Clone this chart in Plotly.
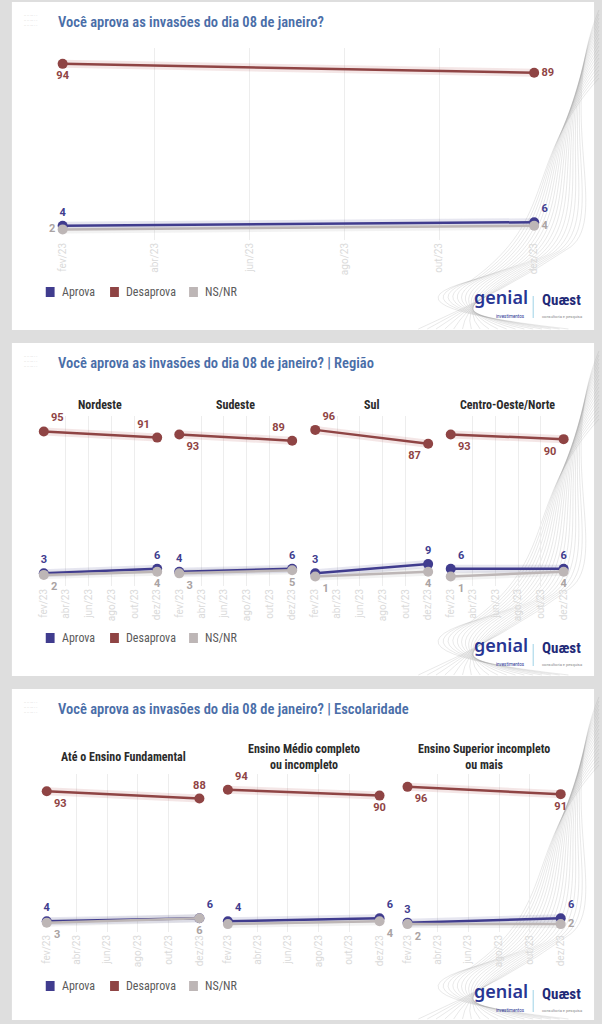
import plotly.graph_objects as go

W, H = 602, 1024

# ---- data ----
surveys = ["2023-02-01", "2023-12-01"]
tick_dates = ["2023-02-01", "2023-04-01", "2023-06-01", "2023-08-01", "2023-10-01", "2023-12-01"]
tick_labels = ["fev/23", "abr/23", "jun/23", "ago/23", "out/23", "dez/23"]
series_names = ["Aprova", "Desaprova", "NS/NR"]

total_aprova = [4, 6]
total_desaprova = [94, 89]
total_nsnr = [2, 4]

regioes = ["Nordeste", "Sudeste", "Sul", "Centro-Oeste/Norte"]
regiao_aprova = [[3, 6], [4, 6], [3, 9], [6, 6]]
regiao_desaprova = [[95, 91], [93, 89], [96, 87], [93, 90]]
regiao_nsnr = [[2, 4], [3, 5], [1, 4], [1, 4]]

escolaridade = ["Até o Ensino Fundamental", "Ensino Médio completo<br>ou incompleto",
                "Ensino Superior incompleto<br>ou mais"]
escol_aprova = [[4, 6], [4, 6], [3, 6]]
escol_desaprova = [[93, 88], [94, 90], [96, 91]]
escol_nsnr = [[3, 6], [2, 4], [2, 2]]

# ---- style ----
colors = {"Aprova": "#403c8e", "Desaprova": "#8f4444", "NS/NR": "#bdb6b6"}
bands = {"Aprova": "rgba(64,60,142,0.13)", "Desaprova": "rgba(180,90,90,0.15)",
         "NS/NR": "rgba(170,165,165,0.15)"}
title_color = "#4a6ea8"
cond = "Roboto Condensed, DejaVu Sans Condensed, Liberation Sans Narrow, Roboto"


def px(x):
    return x / W


def py(y):
    return 1 - y / H


fig = go.Figure()
layout_axes = {}
annotations = []
shapes = []
n_axes = [0]


def add_panel(xdom, ydom, yrange, values, positions, hidden=()):
    n_axes[0] += 1
    i = n_axes[0]
    sfx = "" if i == 1 else str(i)
    layout_axes["xaxis" + sfx] = dict(
        domain=[px(xdom[0]), px(xdom[1])], anchor="y" + sfx, type="date",
        range=[surveys[0], surveys[1]], tickvals=tick_dates, ticktext=tick_labels,
        tickangle=-90, tickfont=dict(size=10, color="#dadada"), showgrid=True,
        gridcolor="#ededed", gridwidth=1, zeroline=False, showline=False, ticks="")
    layout_axes["yaxis" + sfx] = dict(
        domain=[py(ydom[1]), py(ydom[0])], anchor="x" + sfx, range=yrange,
        showgrid=False, zeroline=False, showticklabels=False, showline=False)
    for name in ["Desaprova", "Aprova", "NS/NR"]:
        fig.add_trace(go.Scatter(
            x=surveys, y=values[name], xaxis="x" + sfx, yaxis="y" + sfx,
            mode="lines", line=dict(color=bands[name], width=8),
            hoverinfo="skip", showlegend=False, cliponaxis=False))
    for name in ["Desaprova", "Aprova", "NS/NR"]:
        texts = [("" if (name, k) in hidden else str(v)) for k, v in enumerate(values[name])]
        tcol = "#aaa3a3" if name == "NS/NR" else colors[name]
        fig.add_trace(go.Scatter(
            x=surveys, y=values[name], xaxis="x" + sfx, yaxis="y" + sfx, name=name,
            mode="lines+markers+text", text=texts, textposition=positions[name],
            textfont=dict(size=11, color=tcol, family="Roboto", weight="bold"),
            line=dict(color=colors[name], width=2.5), marker=dict(size=10, color=colors[name]),
            showlegend=False, cliponaxis=False))


def add_waves(top, bottom):
    # faint decorative curves in the right-hand corner of each card
    for k in range(18):
        x0, y0 = 604, top + 8 + k * 4
        c1 = (560 - k * 2, top + 110 + k * 3)
        c2 = (615 - k * 3, top + 215)
        x1, y1 = 575 - k * 6, top + 245 + k * 2
        c3 = (510 - k * 8, bottom - 40 + k)
        x2, y2 = 420 + k * 9, bottom - 1
        path = "M {},{} C {},{} {},{} {},{} Q {},{} {},{}".format(
            px(x0), py(y0), px(c1[0]), py(c1[1]), px(c2[0]), py(c2[1]),
            px(x1), py(y1), px(c3[0]), py(c3[1]), px(x2), py(y2))
        shapes.append(dict(type="path", xref="paper", yref="paper", path=path,
                           line=dict(color="rgba(150,150,150,0.35)", width=0.6),
                           layer="below"))


def add_card(top, bottom, title, legend_y, logo_y):
    shapes.append(dict(type="rect", xref="paper", yref="paper", x0=px(6), x1=px(599),
                       y0=py(bottom), y1=py(top), fillcolor="white", line=dict(width=0),
                       layer="below"))
    add_waves(top, bottom)
    annotations.append(dict(x=px(51), y=py(top + 20), xref="paper", yref="paper",
                            text=title, showarrow=False, xanchor="left", yanchor="middle",
                            font=dict(size=14.5, color=title_color, family=cond, weight=600)))
    annotations.append(dict(x=px(16), y=py(top + 18), xref="paper", yref="paper",
                            text="·· ·· ··· · ·<br>·· ·· ··· · ·<br>·· ·· ··· · ·",
                            showarrow=False, xanchor="left", yanchor="middle",
                            font=dict(size=4, color="#b5b5b5")))
    for sx, tx, name in [(45, 55, "Aprova"), (110.5, 120, "Desaprova"), (191, 201, "NS/NR")]:
        shapes.append(dict(type="rect", xref="paper", yref="paper", x0=px(sx - 4.5),
                           x1=px(sx + 4.5), y0=py(legend_y + 5), y1=py(legend_y - 5),
                           fillcolor=colors[name], line=dict(width=0)))
        annotations.append(dict(x=px(tx), y=py(legend_y), xref="paper", yref="paper", text=name,
                                showarrow=False, xanchor="left", yanchor="middle",
                                font=dict(size=12, color="#5a5a5a", family=cond)))
    annotations.append(dict(x=px(504), y=py(logo_y + 6), xref="paper", yref="paper",
                            text="genial", showarrow=False, xanchor="center", yanchor="bottom",
                            font=dict(size=18, color="#283593", family="Noto Sans", weight=600)))
    annotations.append(dict(x=px(514), y=py(logo_y + 7), xref="paper", yref="paper",
                            text="investimentos", showarrow=False, xanchor="center",
                            yanchor="top", font=dict(size=4.5, color="#283593")))
    shapes.append(dict(type="line", xref="paper", yref="paper", x0=px(537), x1=px(537),
                       y0=py(logo_y - 9), y1=py(logo_y + 13),
                       line=dict(color="#9fd3e6", width=1)))
    annotations.append(dict(x=px(566), y=py(logo_y + 6), xref="paper", yref="paper",
                            text="<b>Quæst</b>", showarrow=False, xanchor="center",
                            yanchor="bottom",
                            font=dict(size=15, color="#1f2a78", family=cond)))
    annotations.append(dict(x=px(566), y=py(logo_y + 7), xref="paper", yref="paper",
                            text="consultoria e pesquisa", showarrow=False, xanchor="center",
                            yanchor="top", font=dict(size=4, color="#8a8a8a")))


# card 1: total
add_card(2, 330, "Você aprova as invasões do dia 08 de janeiro?", 292, 305)
add_panel((57.7, 538), (48, 240), [-3.9, 102.8],
          {"Aprova": total_aprova, "Desaprova": total_desaprova, "NS/NR": total_nsnr},
          {"Aprova": ["top center", "top right"], "Desaprova": ["bottom center", "middle right"],
           "NS/NR": ["middle left", "middle right"]})

# card 2: regiao
add_card(343, 676, "Você aprova as invasões do dia 08 de janeiro? | Região", 638, 653)
reg_xdom = [(38.5, 154), (176.5, 291.5), (315, 430), (453, 568)]
reg_pos = [
    {"Aprova": ["top center", "top center"], "Desaprova": ["top right", "top left"],
     "NS/NR": ["bottom right", "bottom center"]},
    {"Aprova": ["top center", "top center"], "Desaprova": ["bottom right", "top left"],
     "NS/NR": ["bottom right", "bottom center"]},
    {"Aprova": ["top center", "top center"], "Desaprova": ["top right", "bottom left"],
     "NS/NR": ["bottom right", "bottom center"]},
    {"Aprova": ["top right", "top center"], "Desaprova": ["bottom right", "bottom left"],
     "NS/NR": ["bottom right", "bottom center"]},
]
for k, reg in enumerate(regioes):
    add_panel(reg_xdom[k], (416, 586), [-5.2, 105],
              {"Aprova": regiao_aprova[k], "Desaprova": regiao_desaprova[k],
               "NS/NR": regiao_nsnr[k]}, reg_pos[k])
    annotations.append(dict(x=px(sum(reg_xdom[k]) / 2), y=py(405), xref="paper", yref="paper",
                            text="<b>" + reg + "</b>", showarrow=False, xanchor="center",
                            yanchor="middle",
                            font=dict(size=12, color="#2b2b2b", family=cond)))

# card 3: escolaridade
add_card(689, 1020, "Você aprova as invasões do dia 08 de janeiro? | Escolaridade", 986, 999)
esc_xdom = [(41.5, 197), (226, 380.5), (409, 565)]
esc_pos = [
    {"Aprova": ["top center", "top right"], "Desaprova": ["bottom right", "top center"],
     "NS/NR": ["bottom right", "bottom center"]},
    {"Aprova": ["top right", "top right"], "Desaprova": ["top right", "bottom center"],
     "NS/NR": ["bottom right", "bottom right"]},
    {"Aprova": ["top center", "top right"], "Desaprova": ["bottom right", "bottom center"],
     "NS/NR": ["bottom right", "middle right"]},
]
esc_hidden = [(), (("NS/NR", 0),), ()]
for k, esc in enumerate(escolaridade):
    add_panel(esc_xdom[k], (774, 932), [-3.4, 104.8],
              {"Aprova": escol_aprova[k], "Desaprova": escol_desaprova[k],
               "NS/NR": escol_nsnr[k]}, esc_pos[k], esc_hidden[k])
    annotations.append(dict(x=px(sum(esc_xdom[k]) / 2), y=py(757), xref="paper", yref="paper",
                            text="<b>" + esc + "</b>", showarrow=False, xanchor="center",
                            yanchor="middle",
                            font=dict(size=12, color="#2b2b2b", family=cond)))

fig.update_layout(
    width=W, height=H, margin=dict(l=0, r=0, t=0, b=0),
    paper_bgcolor="#dedede", plot_bgcolor="rgba(0,0,0,0)",
    font=dict(family="Roboto"), showlegend=False,
    shapes=shapes, annotations=annotations, **layout_axes)

fig.write_html("out.html", config={"displayModeBar": False},
               post_script="document.body.style.margin='0';"
                           "document.body.style.overflow='hidden';"
                           "document.body.style.background='#dedede';")
